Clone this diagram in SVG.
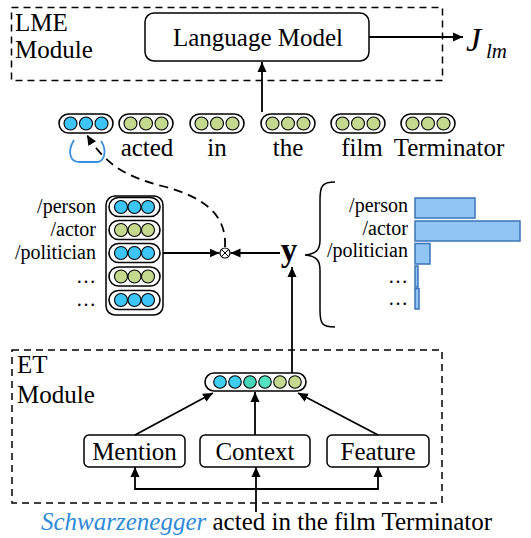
<svg xmlns="http://www.w3.org/2000/svg" width="531" height="538" viewBox="0 0 531 538">
<defs>
<marker id="arr" viewBox="0 0 10 10" refX="10" refY="5" markerWidth="10" markerHeight="10" markerUnits="userSpaceOnUse" orient="auto">
<path d="M0,0.5 L10,5 L0,9.5 Z" fill="#000"/>
</marker>
<style>
text{font-family:"Liberation Serif","Times New Roman",serif;fill:#000}
.t24{font-size:25px}
.t20{font-size:20px}
.dash{fill:none;stroke:#000;stroke-width:1.5;stroke-dasharray:7,5}
.box{fill:#fff;stroke:#000;stroke-width:1.5}
.pill{fill:#fff;stroke:#000;stroke-width:1.6}
.b{fill:#3EC5F7;stroke:#000;stroke-width:1.1}
.g{fill:#C4D88E;stroke:#000;stroke-width:1.1}
.ln{fill:none;stroke:#000;stroke-width:1.8}
.bar{fill:#90C5F4;stroke:#3B74B8;stroke-width:1.5}
</style>
</defs>

<!-- LME module -->
<g id="lme-module">
<rect x="11.5" y="7.5" width="431" height="73" class="dash"/>
<text x="15" y="31" class="t24">LME</text>
<text x="15" y="58" class="t24">Module</text>
</g>
<g id="language-model">
<rect x="145" y="13" width="224" height="48" rx="9" class="box"/>
<text x="258" y="46" class="t24" text-anchor="middle">Language Model</text>
</g>
<g id="jlm">
<text x="466" y="51" style="font-size:34px;font-style:italic">J</text>
<text x="486" y="58" style="font-size:21px;font-style:italic">lm</text>
</g>

<!-- word vectors -->
<g id="vec-mention">
<rect x="59" y="114" width="54" height="19" rx="9.5" class="pill"/>
<circle cx="70.5" cy="123.5" r="6.5" class="b"/><circle cx="86" cy="123.5" r="6.5" class="b"/><circle cx="101.5" cy="123.5" r="6.5" class="b"/>
<path d="M74,140 Q68,150 71,157 Q73,162 80,162 L97,162 Q102,162 104,156 Q106,148 101,141" fill="none" stroke="#3A8EDC" stroke-width="1.8"/>
</g>
<g id="vec-acted">
<rect x="119" y="114" width="54" height="19" rx="9.5" class="pill"/>
<circle cx="130.5" cy="123.5" r="6.5" class="g"/><circle cx="146" cy="123.5" r="6.5" class="g"/><circle cx="161.5" cy="123.5" r="6.5" class="g"/>
<text x="147" y="156" class="t24" text-anchor="middle">acted</text>
</g>
<g id="vec-in">
<rect x="190" y="114" width="54" height="19" rx="9.5" class="pill"/>
<circle cx="201.5" cy="123.5" r="6.5" class="g"/><circle cx="217" cy="123.5" r="6.5" class="g"/><circle cx="232.5" cy="123.5" r="6.5" class="g"/>
<text x="217" y="156" class="t24" text-anchor="middle">in</text>
</g>
<g id="vec-the">
<rect x="261" y="114" width="54" height="19" rx="9.5" class="pill"/>
<circle cx="272.5" cy="123.5" r="6.5" class="g"/><circle cx="288" cy="123.5" r="6.5" class="g"/><circle cx="303.5" cy="123.5" r="6.5" class="g"/>
<text x="288" y="156" class="t24" text-anchor="middle">the</text>
</g>
<g id="vec-film">
<rect x="331" y="114" width="54" height="19" rx="9.5" class="pill"/>
<circle cx="342.5" cy="123.5" r="6.5" class="g"/><circle cx="358" cy="123.5" r="6.5" class="g"/><circle cx="373.5" cy="123.5" r="6.5" class="g"/>
<text x="362" y="156" class="t24" text-anchor="middle">film</text>
</g>
<g id="vec-terminator">
<rect x="401" y="114" width="54" height="19" rx="9.5" class="pill"/>
<circle cx="412.5" cy="123.5" r="6.5" class="g"/><circle cx="428" cy="123.5" r="6.5" class="g"/><circle cx="443.5" cy="123.5" r="6.5" class="g"/>
<text x="449" y="156" class="t24" text-anchor="middle">Terminator</text>
</g>

<!-- type embedding matrix -->
<g id="type-matrix">
<rect x="106" y="196" width="57" height="119" rx="9" class="box"/>
<rect x="109" y="197.5" width="51" height="19" rx="9.5" class="pill"/>
<circle cx="121" cy="207" r="6.5" class="b"/><circle cx="134.5" cy="207" r="6.5" class="b"/><circle cx="148" cy="207" r="6.5" class="b"/>
<rect x="109" y="220.5" width="51" height="19" rx="9.5" class="pill"/>
<circle cx="121" cy="230" r="6.5" class="g"/><circle cx="134.5" cy="230" r="6.5" class="g"/><circle cx="148" cy="230" r="6.5" class="g"/>
<rect x="109" y="243.5" width="51" height="19" rx="9.5" class="pill"/>
<circle cx="121" cy="253" r="6.5" class="b"/><circle cx="134.5" cy="253" r="6.5" class="b"/><circle cx="148" cy="253" r="6.5" class="b"/>
<rect x="109" y="267" width="51" height="19" rx="9.5" class="pill"/>
<circle cx="121" cy="276.5" r="6.5" class="g"/><circle cx="134.5" cy="276.5" r="6.5" class="g"/><circle cx="148" cy="276.5" r="6.5" class="g"/>
<rect x="109" y="290.5" width="51" height="19" rx="9.5" class="pill"/>
<circle cx="121" cy="300" r="6.5" class="b"/><circle cx="134.5" cy="300" r="6.5" class="b"/><circle cx="148" cy="300" r="6.5" class="b"/>
<text x="96" y="213" class="t20" text-anchor="end">/person</text>
<text x="96" y="236" class="t20" text-anchor="end">/actor</text>
<text x="96" y="259" class="t20" text-anchor="end">/politician</text>
<text x="96" y="283" class="t20" text-anchor="end">…</text>
<text x="96" y="306" class="t20" text-anchor="end">…</text>
</g>

<!-- otimes -->
<g id="otimes">
<circle cx="225" cy="253" r="5" fill="#fff" stroke="#000" stroke-width="1.1"/>
<path d="M221.5,249.5 L228.5,256.5 M228.5,249.5 L221.5,256.5" stroke="#000" stroke-width="1"/>
</g>

<!-- y -->
<g id="y-output">
<text x="289" y="261" text-anchor="middle" style="font-size:33px;font-weight:bold">y</text>
</g>

<!-- distribution -->
<g id="distribution">
<path d="M335,182 C322,182 320,186 320,200 L320,240 C320,250 316,254 305,255 C316,256 320,260 320,270 L320,310 C320,324 322,327 335,327" fill="none" stroke="#000" stroke-width="1.5"/>
<text x="408" y="212" class="t20" text-anchor="end">/person</text>
<text x="408" y="235" class="t20" text-anchor="end">/actor</text>
<text x="408" y="257" class="t20" text-anchor="end">/politician</text>
<text x="408" y="283" class="t20" text-anchor="end">…</text>
<text x="408" y="305" class="t20" text-anchor="end">…</text>
<rect x="415" y="198" width="60" height="20" class="bar"/>
<rect x="415" y="221" width="105" height="20" class="bar"/>
<rect x="415" y="243.5" width="15" height="20.5" class="bar"/>
<rect x="415" y="266" width="3" height="21" class="bar"/>
<rect x="415" y="288.5" width="4" height="20.5" class="bar"/>
</g>

<!-- ET module -->
<g id="et-module">
<rect x="12" y="350" width="430" height="153" class="dash"/>
<text x="17" y="373" class="t24">ET</text>
<text x="17" y="403" class="t24">Module</text>
</g>
<g id="et-vector">
<rect x="205" y="373" width="101" height="18" rx="9" class="pill"/>
<circle cx="220" cy="382" r="6.3" fill="#3FCDF0" stroke="#000" stroke-width="1.1"/>
<circle cx="235" cy="382" r="6.3" fill="#3FCDF0" stroke="#000" stroke-width="1.1"/>
<circle cx="250" cy="382" r="6.3" fill="#47D6B9" stroke="#000" stroke-width="1.1"/>
<circle cx="265" cy="382" r="6.3" fill="#54E2C2" stroke="#000" stroke-width="1.1"/>
<circle cx="280" cy="382" r="6.3" fill="#C4D88E" stroke="#000" stroke-width="1.1"/>
<circle cx="295" cy="382" r="6.3" fill="#C4D88E" stroke="#000" stroke-width="1.1"/>
</g>
<g id="mention">
<rect x="84" y="435" width="101" height="32" rx="5" class="box"/>
<text x="134.5" y="460" class="t24" text-anchor="middle">Mention</text>
</g>
<g id="context">
<rect x="200" y="435" width="110" height="32" rx="5" class="box"/>
<text x="255" y="460" class="t24" text-anchor="middle">Context</text>
</g>
<g id="feature">
<rect x="327" y="435" width="102" height="32" rx="5" class="box"/>
<text x="378" y="460" class="t24" text-anchor="middle">Feature</text>
</g>
<g id="sentence">
<text x="41" y="530" class="t24"><tspan style="font-style:italic;fill:#2F8AD6">Schwarzenegger</tspan> acted in the film Terminator</text>
</g>

<!-- connectors -->
<g id="connectors">
<line x1="369" y1="37" x2="463" y2="37" class="ln" marker-end="url(#arr)"/>
<line x1="262" y1="112" x2="262" y2="62" class="ln" marker-end="url(#arr)"/>
<path d="M225,247 C227,212 200,196 162,186 C128,177 106,166 87,135" fill="none" stroke="#000" stroke-width="1.8" stroke-dasharray="9,6" marker-end="url(#arr)"/>
<line x1="163" y1="253" x2="219.5" y2="253" class="ln" marker-end="url(#arr)"/>
<line x1="280" y1="253" x2="230.5" y2="253" class="ln" marker-end="url(#arr)"/>
<line x1="292" y1="373" x2="292" y2="267" class="ln" marker-end="url(#arr)"/>
<line x1="135" y1="435" x2="213" y2="393" class="ln" marker-end="url(#arr)"/>
<line x1="255" y1="435" x2="255" y2="392" class="ln" marker-end="url(#arr)"/>
<line x1="378" y1="435" x2="298" y2="393" class="ln" marker-end="url(#arr)"/>
<path d="M135,478 L135,489 L378,489 L378,478" class="ln"/>
<line x1="135" y1="478" x2="135" y2="467" class="ln" marker-end="url(#arr)"/>
<line x1="378" y1="478" x2="378" y2="467" class="ln" marker-end="url(#arr)"/>
<line x1="256" y1="512" x2="256" y2="467" class="ln" marker-end="url(#arr)"/>
</g>
</svg>
